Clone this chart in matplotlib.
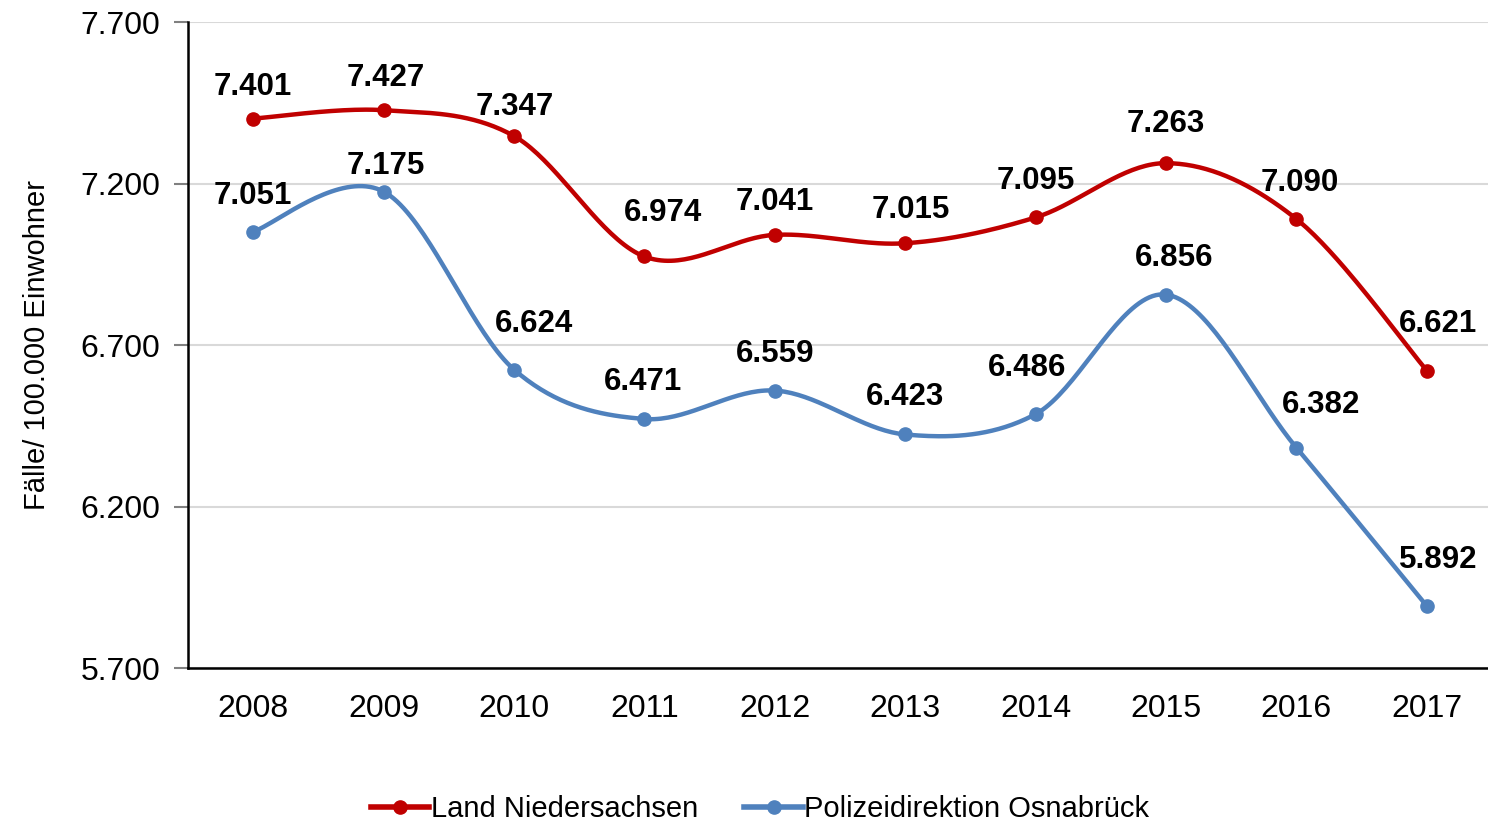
import matplotlib.pyplot as plt
import numpy as np
from matplotlib.ticker import FuncFormatter
from matplotlib.lines import Line2D

plt.rcParams['font.family'] = ['Liberation Sans', 'DejaVu Sans']

# data
years = [2008, 2009, 2010, 2011, 2012, 2013, 2014, 2015, 2016, 2017]
land_nds = [7401, 7427, 7347, 6974, 7041, 7015, 7095, 7263, 7090, 6621]
pd_osnabrueck = [7051, 7175, 6624, 6471, 6559, 6423, 6486, 6856, 6382, 5892]
series_names = ["Land Niedersachsen", "Polizeidirektion Osnabrück"]
y_ticks = [5700, 6200, 6700, 7200, 7700]

# label placement (pixels) as moved by hand in the original
red_off = [(0, 32), (2, 32), (1, 29), (19, 43), (0, 33), (6, 33), (0, 36), (0, 39), (3, 36), (11, 47)]
blue_off = [(0, 36), (2, 26), (20, 46), (-1, 37), (0, 37), (0, 37), (-9, 46), (8, 37), (25, 43), (11, 46)]

RED = "#C00000"
BLUE = "#4F81BD"


def smooth(x, y, n=40):
    # Excel-like smoothing: Catmull-Rom as cubic Bezier segments
    x = np.asarray(x, float)
    y = np.asarray(y, float)
    px = np.concatenate([[x[0]], x, [x[-1]]])
    py = np.concatenate([[y[0]], y, [y[-1]]])
    xs, ys = [], []
    t = np.linspace(0, 1, n)
    for i in range(1, len(px) - 2):
        p0 = np.array([px[i], py[i]])
        p3 = np.array([px[i + 1], py[i + 1]])
        c1 = p0 + (np.array([px[i + 1], py[i + 1]]) - np.array([px[i - 1], py[i - 1]])) / 6
        c2 = p3 - (np.array([px[i + 2], py[i + 2]]) - np.array([px[i], py[i]])) / 6
        pts = ((1 - t) ** 3)[:, None] * p0 + (3 * (1 - t) ** 2 * t)[:, None] * c1 \
            + (3 * (1 - t) * t ** 2)[:, None] * c2 + (t ** 3)[:, None] * p3
        xs.extend(pts[:, 0])
        ys.extend(pts[:, 1])
    return np.array(xs), np.array(ys)


def fmt(v):
    return f"{v:,.0f}".replace(",", ".")


fig = plt.figure(figsize=(14.88, 8.21), dpi=100)
ax = fig.add_axes([188 / 1488, 1 - 668 / 821, 1304 / 1488, (668 - 22) / 821])

xpos = np.arange(len(years))
for vals, color in [(land_nds, RED), (pd_osnabrueck, BLUE)]:
    sx, sy = smooth(xpos, vals)
    ax.plot(sx, sy, color=color, lw=3.2, solid_capstyle='round', zorder=3, clip_on=False)
    ax.plot(xpos, vals, 'o', color=color, ms=9.5, zorder=4, clip_on=False)

for vals, offs in [(land_nds, red_off), (pd_osnabrueck, blue_off)]:
    for i, v in enumerate(vals):
        ax.annotate(fmt(v), (xpos[i], v), xytext=offs[i], textcoords='offset pixels',
                    ha='center', va='center', fontsize=22.5, fontweight='bold', zorder=5)

ax.set_xlim(-0.5, len(years) - 0.5)
ax.set_ylim(5700, 7700)
ax.set_yticks(y_ticks)
ax.yaxis.set_major_formatter(FuncFormatter(lambda v, p: fmt(v)))
ax.set_xticks(xpos)
ax.set_xticklabels([str(y) for y in years])
ax.tick_params(axis='y', labelsize=23, length=10, width=1.5, color='#808080', pad=10)
ax.tick_params(axis='x', labelsize=23, length=0, pad=19)
ax.grid(axis='y', color='#D9D9D9', lw=1.5)
ax.set_axisbelow(True)
for s in ['top', 'right']:
    ax.spines[s].set_visible(False)
ax.spines['left'].set_linewidth(1.8)
ax.spines['bottom'].set_linewidth(1.8)
ax.set_ylabel("Fälle/ 100.000 Einwohner", fontsize=21, labelpad=21)

handles = [Line2D([], [], color=RED, lw=4, marker='o', ms=9.5),
           Line2D([], [], color=BLUE, lw=4, marker='o', ms=9.5)]
fig.legend(handles, series_names, loc='center', bbox_to_anchor=(760 / 1488, 1 - 809 / 821),
           ncol=2, frameon=False, fontsize=21, handlelength=2.0, handletextpad=0.05,
           columnspacing=1.6)

fig.savefig("out.png", dpi=100)
